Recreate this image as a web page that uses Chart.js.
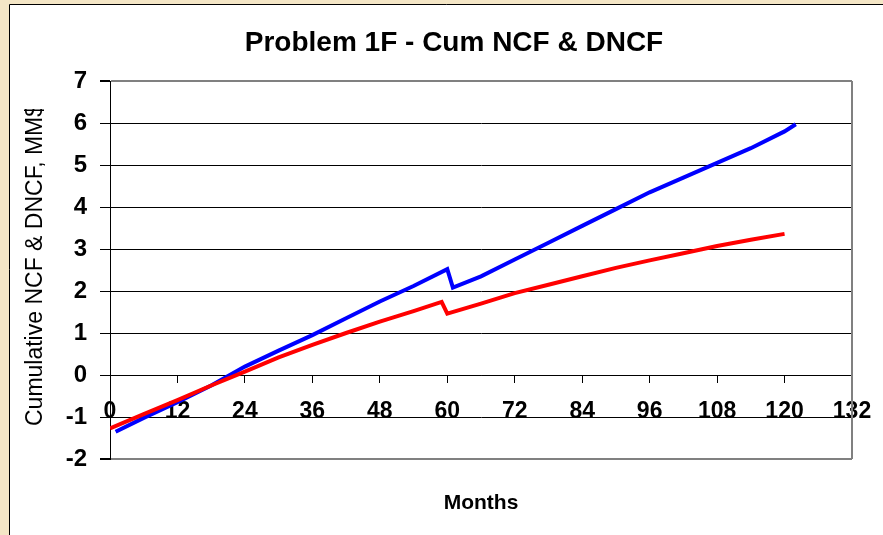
<!DOCTYPE html>
<html>
<head>
<meta charset="utf-8">
<title>Problem 1F - Cum NCF & DNCF</title>
<script src="https://cdn.jsdelivr.net/npm/chart.js@4/dist/chart.umd.min.js"></script>
<style>
  body { margin: 0; background: #f4e6c6; }
  canvas { display: block; }
</style>
</head>
<body>
<canvas id="ncfChart" width="883" height="535"></canvas>
<script>
// Cumulative DNCF (red), months 0..120
const dncfMonths = [0, 6, 12, 18, 24, 30, 36, 42, 48, 54, 59, 60, 66, 72, 78, 84, 90, 96, 102, 108, 114, 120];
const dncfValues = [-1.27, -0.93, -0.6, -0.25, 0.08, 0.42, 0.72, 1.0, 1.27, 1.52, 1.74, 1.46, 1.7, 1.95, 2.15, 2.35, 2.55, 2.73, 2.9, 3.07, 3.22, 3.36];

// Cumulative NCF (blue)
const ncfMonths = [1, 6, 12, 18, 24, 30, 36, 42, 48, 54, 60, 61, 66, 72, 78, 84, 90, 96, 102, 108, 114, 120, 122];
const ncfValues = [-1.35, -1.02, -0.65, -0.25, 0.2, 0.58, 0.95, 1.35, 1.75, 2.12, 2.52, 2.08, 2.35, 2.75, 3.15, 3.55, 3.95, 4.35, 4.7, 5.05, 5.4, 5.8, 5.97];

// axis ranges
const xMin = 0, xMax = 132, xStep = 12;
const yMin = -2, yMax = 7, yStep = 1;

const chartTitle = 'Problem 1F - Cum NCF & DNCF';
const xTitle = 'Months';
const yTitle = 'Cumulative NCF & DNCF, MM$';

const fontFamily = "'Liberation Sans', Arial, sans-serif";

function toPoints(xs, ys) {
    return xs.map((x, i) => ({ x: x, y: ys[i] }));
}

// Draws the parchment background, white frame, right plot border and y title
const framePlugin = {
    id: 'frame',
    beforeDraw(chart) {
        const ctx = chart.ctx;
        ctx.save();
        ctx.fillStyle = '#f4e6c6';
        ctx.fillRect(0, 0, chart.width, chart.height);
        ctx.fillStyle = '#ffffff';
        ctx.fillRect(9, 4, chart.width, chart.height);
        ctx.strokeStyle = '#000000';
        ctx.lineWidth = 1;
        ctx.beginPath();
        ctx.moveTo(9.5, chart.height);
        ctx.lineTo(9.5, 4.5);
        ctx.lineTo(chart.width, 4.5);
        ctx.stroke();
        ctx.restore();
    },
    afterDraw(chart) {
        const ctx = chart.ctx;
        const area = chart.chartArea;
        ctx.save();
        // right border of plot area
        ctx.strokeStyle = '#808080';
        ctx.lineWidth = 2;
        ctx.beginPath();
        ctx.moveTo(area.right, area.top);
        ctx.lineTo(area.right, area.bottom);
        ctx.stroke();
        // y axis title, clipped at top like the original
        ctx.beginPath();
        ctx.rect(10, 109, 90, chart.height - 109);
        ctx.clip();
        ctx.translate(36, 265);
        ctx.rotate(-Math.PI / 2);
        ctx.fillStyle = '#000000';
        ctx.font = '23px ' + fontFamily;
        ctx.textAlign = 'center';
        ctx.textBaseline = 'middle';
        ctx.fillText(yTitle, 0, 0);
        ctx.restore();
    }
};

const ctx = document.getElementById('ncfChart').getContext('2d');
const chart = new Chart(ctx, {
    type: 'scatter',
    data: {
        datasets: [
            {
                label: 'Cum DNCF',
                data: toPoints(dncfMonths, dncfValues),
                showLine: true,
                borderColor: '#ff0000',
                backgroundColor: '#ff0000',
                borderWidth: 4,
                pointRadius: 0,
                tension: 0
            },
            {
                label: 'Cum NCF',
                data: toPoints(ncfMonths, ncfValues),
                showLine: true,
                borderColor: '#0000ff',
                backgroundColor: '#0000ff',
                borderWidth: 4,
                pointRadius: 0,
                tension: 0
            }
        ]
    },
    options: {
        responsive: false,
        animation: false,
        layout: {
            autoPadding: false,
            padding: { left: 56, right: 31, top: 0, bottom: 0 }
        },
        plugins: {
            legend: { display: false },
            tooltip: { enabled: false },
            title: {
                display: true,
                text: chartTitle,
                color: '#000000',
                font: { family: fontFamily, size: 28, weight: 'bold' },
                padding: { top: 26, bottom: 21.4 }
            },
            subtitle: {
                display: true,
                text: xTitle,
                position: 'bottom',
                fullSize: false,
                color: '#000000',
                font: { family: fontFamily, size: 21, weight: 'bold' },
                padding: { top: 32, bottom: 18.8 }
            }
        },
        scales: {
            x: {
                type: 'linear',
                position: { y: 0 },
                min: xMin,
                max: xMax,
                afterFit(scale) { scale.paddingLeft = 0; scale.paddingRight = 0; },
                border: { display: true, color: '#000000', width: 1 },
                grid: {
                    drawOnChartArea: false,
                    drawTicks: true,
                    tickLength: 7,
                    color: '#000000'
                },
                ticks: {
                    stepSize: xStep,
                    color: '#000000',
                    padding: 16,
                    maxRotation: 0,
                    font: { family: fontFamily, size: 23, weight: 'bold' }
                }
            },
            y: {
                type: 'linear',
                position: 'left',
                min: yMin,
                max: yMax,
                afterFit(scale) { scale.width = 54; scale.paddingTop = 0; scale.paddingBottom = 0; },
                border: { display: true, color: '#000000', width: 1 },
                grid: {
                    drawTicks: true,
                    tickLength: 10,
                    tickColor: '#000000',
                    color: (c) => (c.tick && (c.tick.value === yMax || c.tick.value === yMin)) ? '#808080' : '#000000',
                    lineWidth: (c) => (c.tick && (c.tick.value === yMax || c.tick.value === yMin)) ? 2 : 1
                },
                ticks: {
                    stepSize: yStep,
                    color: '#000000',
                    padding: 13,
                    font: { family: fontFamily, size: 24, weight: 'bold' }
                }
            }
        }
    },
    plugins: [framePlugin]
});
</script>
</body>
</html>
